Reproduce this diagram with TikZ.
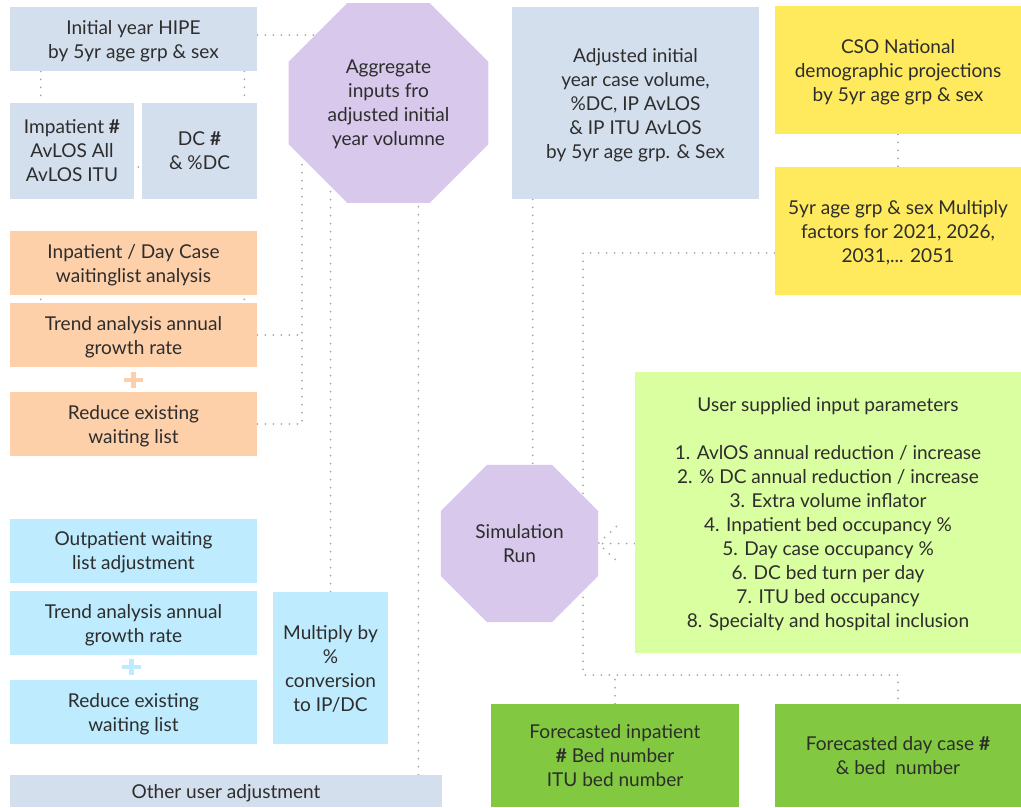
\documentclass[tikz,border=0pt]{standalone}
\usepackage{fontspec}
\setmainfont{Lato}
\usetikzlibrary{shapes.geometric,backgrounds}

\definecolor{bluegrey}{RGB}{212,223,238}
\definecolor{lavender}{RGB}{216,200,236}
\definecolor{peach}{RGB}{253,208,170}
\definecolor{skyblue}{RGB}{190,235,253}
\definecolor{lemon}{RGB}{255,234,94}
\definecolor{lime}{RGB}{217,255,160}
\definecolor{leaf}{RGB}{130,201,65}
\definecolor{dotgrey}{RGB}{168,168,168}
\definecolor{ink}{RGB}{45,45,45}

\begin{document}
\begin{tikzpicture}[x=0.75pt, y=-0.75pt,
    every node/.style={text=ink, align=center, font=\fontsize{14.3}{18}\selectfont, text depth=-1.5pt},
    box/.style 2 args={rectangle, inner sep=0pt, minimum width=#1*0.75pt, minimum height=#2*0.75pt},
    octo/.style={regular polygon, regular polygon sides=8, fill=lavender, inner sep=0pt, minimum size=#1*0.75pt},
    dotline/.style={dotgrey, line width=1.5pt, line cap=round, dash pattern=on 0pt off 6pt},
    plus/.style={line width=3.5pt}]
  \useasboundingbox (0,0) rectangle (1021,807);

  % Initial year data
  \node[box={247}{64}, fill=bluegrey] (hipe) at (133.5,39) {Initial year HIPE\\by 5yr age grp \& sex};
  \node[box={124}{96}, fill=bluegrey] (ip) at (72,151) {Impatient \textbf{\#}\\AvLOS All\\AvLOS ITU};
  \node[box={115}{96}, fill=bluegrey] (dc) at (199.5,151) {DC \textbf{\#}\\\& \%DC};
  \node[octo=216] (agg) at (388.5,103) {Aggregate\\inputs fro\\adjusted initial\\year volumne};

  % Inpatient / day case waiting list
  \node[box={247}{64}, fill=peach] (wl) at (133.5,263) {Inpatient / Day Case\\waitinglist analysis};
  \node[box={247}{64}, fill=peach] (tr1) at (133.5,335) {Trend analysis annual\\growth rate};
  \node[box={247}{64}, fill=peach] (rd1) at (133.5,424) {Reduce existing\\waiting list};
  \draw[plus, peach] (124,380) -- (143,380) (133.5,372) -- (133.5,388);

  % Outpatient waiting list
  \node[box={247}{64}, fill=skyblue] (op) at (133.5,551) {Outpatient waiting\\list adjustment};
  \node[box={247}{64}, fill=skyblue] (tr2) at (133.5,623) {Trend analysis annual\\growth rate};
  \node[box={247}{64}, fill=skyblue] (rd2) at (133.5,712) {Reduce existing\\waiting list};
  \draw[plus, skyblue] (122,667) -- (141,667) (131.5,659) -- (131.5,675);
  \node[box={115}{152}, fill=skyblue] (mult) at (330.5,668) {Multiply by\\\%\\conversion\\to IP/DC};
  \node[box={432}{32}, fill=bluegrey] (other) at (226,791) {Other user adjustment};

  % Projection side
  \node[box={247}{192}, fill=bluegrey] (adj) at (635.5,103) {Adjusted initial\\year case volume,\\\%DC, IP AvLOS\\\& IP ITU AvLOS\\by 5yr age grp. \& Sex};
  \node[box={246}{128}, fill=lemon] (cso) at (898,70) {CSO National\\demographic projections\\by 5yr age grp \& sex};
  \node[box={246}{128}, fill=lemon] (yr5) at (898,231) {5yr age grp \& sex Multiply\\factors for 2021, 2026,\\2031,... 2051};
  \node[box={386}{281}, fill=lime] (params) at (828,512.5) {User supplied input parameters\\[18pt]
    1. AvlOS annual reduction / increase\\2. \% DC annual reduction / increase\\3. Extra volume inflator\\
    4. Inpatient bed occupancy \%\\5. Day case occupancy \%\\6. DC bed turn per day\\
    7. ITU bed occupancy\\8. Specialty and hospital inclusion};
  \node[octo=170] (sim) at (519.5,543.5) {Simulation\\Run};

  % Outputs
  \node[box={248}{103}, fill=leaf] (fip) at (615,755.5) {Forecasted inpatient\\\textbf{\#} Bed number\\ITU bed number};
  \node[box={246}{103}, fill=leaf] (fcd) at (898,755.5) {Forecasted day case \textbf{\#}\\\& bed\ \ number};

  % Dotted links
  \coordinate (trunk) at (302,424);
  \coordinate (hub) at (583,675);
  \begin{scope}[on background layer]
    \draw[dotline] ([yshift=3pt]hipe.east) -- ([yshift=3pt]hipe.east -| agg.center);
    \draw[dotline] ([xshift=23.25pt]hipe.south west) -- ([xshift=23.25pt]ip.north west);
    \draw[dotline] ([xshift=-9.75pt]hipe.south east) -- ([xshift=-9.75pt]dc.north east);
    \draw[dotline, dash phase=3pt] ([yshift=-12pt]ip.east) -- ([yshift=-12pt]dc.west);
    \draw[dotline, dash phase=3pt] ([xshift=23.25pt]wl.south west) -- ([xshift=23.25pt]tr1.north west);
    \draw[dotline, dash phase=3pt] ([xshift=-9.75pt]wl.south east) -- ([xshift=-9.75pt]tr1.north east);
    \draw[dotline] (tr1.east) -- (tr1.east -| trunk);
    \draw[dotline] (rd1.east) -| (trunk |- agg.center);
    \draw[dotline] (mult.north) -- (mult.north |- agg.center);
    \draw[dotline] ([xshift=-18pt]other.north east) -- ([xshift=-18pt]other.north east |- agg.center);
    \draw[dotline] ([xshift=15.75pt]adj.south west) -- ([xshift=15.75pt]adj.south west |- sim.center);
    \draw[dotline] (cso) -- (yr5);
    \draw[dotline] ([yshift=-16.5pt]yr5.west) -| (hub) -| (fcd.north);
    \draw[dotline] (fip.north) -- (fip.north |- hub);
    \draw[dotline] (params.west |- sim.east) -- (sim.east);
    \draw[dotline] ([shift={(18,-17)}]sim.east) -- (sim.east) -- ([shift={(18,17)}]sim.east);
  \end{scope}
\end{tikzpicture}
\end{document}
